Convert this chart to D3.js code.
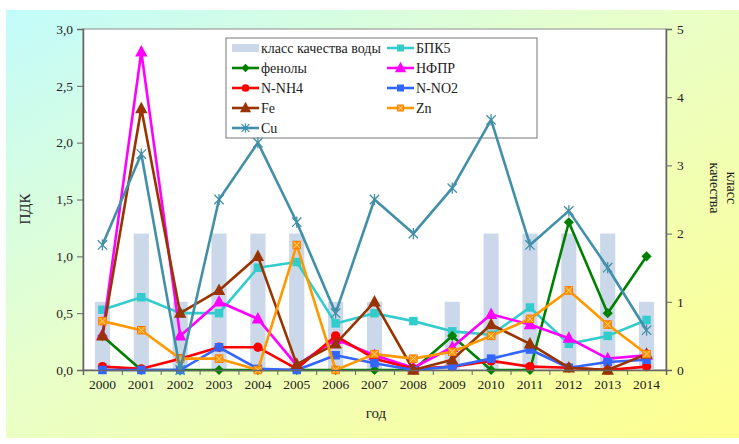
<!DOCTYPE html>
<html><head><meta charset="utf-8">
<script src="https://cdn.jsdelivr.net/npm/d3@7"></script>
<style>body{margin:0;background:#fff}svg{display:block}</style>
</head><body><svg id="c" width="739" height="444"></svg>
<script>
const years = ["2000","2001","2002","2003","2004","2005","2006","2007","2008","2009","2010","2011","2012","2013","2014"];
const qualityClass = [1,2,1,2,2,2,1,1,0,1,2,2,2,2,1];
const bpk5   = [0.53,0.64,0.50,0.50,0.90,0.95,0.41,0.50,0.43,0.34,0.31,0.55,0.23,0.30,0.44];
const phenols= [0.30,0.00,0.00,0.00,0.00,0.00,0.00,0.00,0.00,0.30,0.00,0.00,1.30,0.50,1.00];
const nfpr   = [0.31,2.80,0.30,0.60,0.45,0.04,0.27,0.13,0.02,0.20,0.49,0.40,0.28,0.10,0.13];
const nnh4   = [0.03,0.01,0.10,0.20,0.20,0.01,0.30,0.10,0.01,0.03,0.08,0.03,0.02,0.00,0.03];
const nno2   = [0.00,0.00,0.00,0.20,0.01,0.00,0.13,0.06,0.00,0.03,0.10,0.18,0.02,0.07,0.09];
const fe     = [0.30,2.30,0.50,0.70,1.00,0.05,0.23,0.60,0.00,0.09,0.40,0.23,0.02,0.00,0.14];
const zn     = [0.43,0.35,0.10,0.10,0.00,1.10,0.00,0.14,0.10,0.16,0.30,0.45,0.70,0.40,0.14];
const cu     = [1.10,1.90,0.00,1.50,2.00,1.30,0.50,1.50,1.20,1.60,2.20,1.10,1.40,0.90,0.35];
const leftTicks = [0,0.5,1,1.5,2,2.5,3];
const rightTicks = [0,1,2,3,4,5];

const series = [
  {name:"БПК5", values:bpk5, color:"#33cccc", marker:"square"},
  {name:"фенолы", values:phenols, color:"#008000", marker:"diamond"},
  {name:"НФПР", values:nfpr, color:"#ff00ff", marker:"triangle"},
  {name:"N-NH4", values:nnh4, color:"#ff0000", marker:"circle"},
  {name:"N-NO2", values:nno2, color:"#3366ff", marker:"square"},
  {name:"Fe", values:fe, color:"#993300", marker:"triangle"},
  {name:"Zn", values:zn, color:"#ff9900", marker:"squarex"},
  {name:"Cu", values:cu, color:"#4290a8", marker:"star"}
];
const FONT = '"Liberation Serif"';

const svg = d3.select("#c");
const defs = svg.append("defs");
const g = defs.append("linearGradient").attr("id","bg").attr("x1","0").attr("y1","0").attr("x2","1").attr("y2","1");
g.append("stop").attr("offset","0").attr("stop-color","#c2fbfb");
g.append("stop").attr("offset","0.45").attr("stop-color","#e9ffc9");
g.append("stop").attr("offset","1").attr("stop-color","#ffff8e");
svg.append("rect").attr("x",6).attr("y",10).attr("width",733).attr("height",428).attr("fill","url(#bg)");

const L=83,R=666,T=29,B=370;
const x = d3.scaleBand().domain(years).range([L,R]).padding(0);
const xi = d3.scaleLinear().domain([0,years.length]).range([L,R]);
const yL = d3.scaleLinear().domain([0,3]).range([B,T]);
const yR = d3.scaleLinear().domain([0,5]).range([B,T]);
const cx = d => x(d)+x.bandwidth()/2;

svg.append("rect").attr("x",L).attr("y",T).attr("width",R-L).attr("height",B-T).attr("fill","#fff").attr("stroke","#8c8c8c").attr("stroke-width",1);

function marker(sel, type, color, s){
  if(type==="circle"){ sel.append("circle").attr("r",s*0.55).attr("fill",color); }
  else if(type==="square"){ sel.append("rect").attr("x",-s/2).attr("y",-s/2).attr("width",s).attr("height",s).attr("fill",color); }
  else if(type==="squarex"){ sel.append("rect").attr("x",-s/2+0.5).attr("y",-s/2+0.5).attr("width",s-1).attr("height",s-1).attr("fill",color).attr("stroke","#ff7a00").attr("stroke-width",1);
    sel.append("path").attr("d",`M${-s/2+1},${-s/2+1}L${s/2-1},${s/2-1}M${s/2-1},${-s/2+1}L${-s/2+1},${s/2-1}`).attr("stroke","#ffd090").attr("stroke-width",1); }
  else if(type==="diamond"){ const r=s*0.6; sel.append("path").attr("d",`M0,${-r}L${r},0L0,${r}L${-r},0Z`).attr("fill",color); }
  else if(type==="triangle"){ const r=s*0.62; sel.append("path").attr("d",`M0,${-r*1.1}L${r},${r*0.75}L${-r},${r*0.75}Z`).attr("fill",color); }
  else if(type==="star"){ const r=s*0.55; sel.append("path").attr("d",`M${-r},${-r}L${r},${r}M${r},${-r}L${-r},${r}M0,${-r*1.2}L0,${r*1.2}`).attr("stroke",color).attr("stroke-width",1.3).attr("fill","none"); }
}

// legend (drawn beneath the series)
const lg = svg.append("g");
lg.append("rect").attr("x",226).attr("y",38).attr("width",311).attr("height",100).attr("fill","#fff").attr("stroke","#777").attr("stroke-width",1);
const legendItems = [{name:"класс качества воды", bar:true}].concat(series);
legendItems.forEach((it,i)=>{
  const col=i%2, row=Math.floor(i/2);
  const lx = col===0?232:387, ly = 48+row*20;
  const gi = lg.append("g");
  if(it.bar){ gi.append("rect").attr("x",lx).attr("y",ly-4).attr("width",27).attr("height",8).attr("fill","#cbd8ea"); }
  else {
    gi.append("line").attr("x1",lx).attr("x2",lx+27).attr("y1",ly).attr("y2",ly).attr("stroke",it.color).attr("stroke-width",2.6);
    const m = gi.append("g").attr("transform",`translate(${lx+13.5},${ly})`);
    marker(m, it.marker, it.color, it.marker==="triangle"?9:7);
  }
  gi.append("text").attr("x",lx+29).attr("y",ly+5).style("font-family",FONT).style("font-size","14px").attr("fill","#222").text(it.name);
});

const bw = x.bandwidth()*0.39;
svg.append("g").selectAll("rect").data(years).join("rect")
  .attr("x",d=>cx(d)-bw/2).attr("width",bw)
  .attr("y",(d,i)=>yR(qualityClass[i])).attr("height",(d,i)=>B-yR(qualityClass[i]))
  .attr("fill","#cbd8ea");

const line = d3.line().x((d,i)=>cx(years[i])).y(d=>yL(d));
series.forEach(s=>{
  const gs = svg.append("g");
  gs.append("path").datum(s.values).attr("d",line).attr("fill","none").attr("stroke",s.color).attr("stroke-width",2.6).attr("stroke-linejoin","round");
  gs.selectAll("g.m").data(s.values).join("g").attr("class","m")
    .attr("transform",(d,i)=>`translate(${cx(years[i])},${yL(d)})`)
    .each(function(){ marker(d3.select(this), s.marker, s.color, s.marker==="triangle"?10:8.5); });
});

// axes
const axL = svg.append("g").attr("transform",`translate(${L},0)`)
  .call(d3.axisLeft(yL).tickValues(leftTicks).tickSizeOuter(0).tickSize(6).tickFormat(d=>d.toFixed(1).replace(".",",")));
const axR = svg.append("g").attr("transform",`translate(${R},0)`)
  .call(d3.axisRight(yR).tickValues(rightTicks).tickSizeOuter(0).tickSize(6).tickFormat(d3.format("d")));
const axB = svg.append("g").attr("transform",`translate(0,${B})`)
  .call(d3.axisBottom(xi).tickValues(d3.range(0,16)).tickSizeOuter(0).tickSize(5).tickFormat(""));
const axBL = svg.append("g").attr("transform",`translate(0,${B})`)
  .call(d3.axisBottom(x).tickSize(0).tickPadding(9));
axBL.select(".domain").remove();
[axL,axR,axB].forEach(a=>{a.select(".domain").attr("stroke","#666").attr("stroke-width",1.5); a.selectAll(".tick line").attr("stroke","#666");});
svg.selectAll(".tick text").style("font-family",FONT).style("font-size","13.5px").attr("fill","#222");
axL.selectAll(".tick text").attr("x",-10);
axR.selectAll(".tick text").attr("x",11);

svg.append("text").attr("transform","translate(30,209) rotate(-90)").attr("text-anchor","middle").style("font-family",FONT).style("font-size","15px").attr("fill","#222").text("ПДК");
svg.append("text").attr("x",376).attr("y",418).attr("text-anchor","middle").style("font-family",FONT).style("font-size","15px").attr("fill","#222").text("год");
const rt = svg.append("text").attr("transform","translate(722,188) rotate(90)").attr("text-anchor","middle").style("font-family",FONT).style("font-size","14px").attr("fill","#222");
rt.append("tspan").attr("x",0).attr("dy","-0.35em").text("класс");
rt.append("tspan").attr("x",0).attr("dy","1.2em").text("качества");
</script></body></html>
